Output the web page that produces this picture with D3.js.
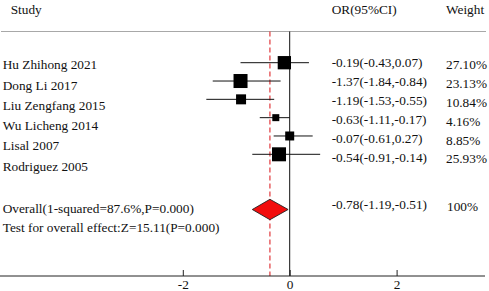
<!DOCTYPE html>
<html>
<head>
<meta charset="utf-8">
<script src="https://cdn.jsdelivr.net/npm/d3@7/dist/d3.min.js"></script>
<style>
  html, body { margin: 0; padding: 0; background: #fff; }
  svg { display: block; }
  text { font-family: "Liberation Serif", "Times New Roman", serif; font-size: 13.3px; fill: #111; }
</style>
</head>
<body>
<svg id="chart" width="489" height="291"></svg>
<script>
// ---- data ----
const studies = ["Hu Zhihong 2021", "Dong Li 2017", "Liu Zengfang 2015", "Wu Licheng 2014", "Lisal 2007", "Rodriguez 2005"];
const orLabels = ["-0.19(-0.43,0.07)", "-1.37(-1.84,-0.84)", "-1.19(-1.53,-0.55)", "-0.63(-1.11,-0.17)", "-0.07(-0.61,0.27)", "-0.54(-0.91,-0.14)"];
const weightLabels = ["27.10%", "23.13%", "10.84%", "4.16%", "8.85%", "25.93%"];
// values as plotted in the picture
const estimates = [-0.10, -0.92, -0.91, -0.26, 0.00, -0.20];
const lowerCI   = [-0.92, -1.44, -1.56, -0.56, -0.30, -0.70];
const upperCI   = [ 0.36, -0.17, -0.29,  0.00,  0.43,  0.57];
const plotWeights = [22.1, 24.5, 12.5, 6.1, 10.1, 24.5];
const overall = { est: -0.37, lo: -0.70, hi: -0.03 };
const overallLabel = "Overall(1-squared=87.6%,P=0.000)";
const overallOR = "-0.78(-1.19,-0.51)";
const overallWeight = "100%";
const testLabel = "Test for overall effect:Z=15.11(P=0.000)";
const headers = ["Study", "OR(95%CI)", "Weight"];
const ticks = [-2, 0, 2];

// ---- layout ----
const svg = d3.select("#chart");
const x = d3.scaleLinear().domain([-2, 2]).range([182.8, 396.6]);
const idx = d3.range(studies.length);
const yMark = d3.scaleLinear().domain([0, 5]).range([62.7, 154.3]);
const yLabel = d3.scaleLinear().domain([0, 5]).range([65, 166.2]);
const yOR = d3.scaleLinear().domain([0, 5]).range([62.9, 157.5]);
const yW = d3.scaleLinear().domain([0, 5]).range([64.8, 159]);
const boxSize = d3.scaleSqrt().domain([0, d3.max(plotWeights)]).range([0, 14]);
const topY = 31.5, axisY = 276, overallY = 209.5;
const base = 4.4; // center -> baseline

// header
const hx = [10.7, 331.7, 446];
svg.selectAll("text.hdr").data(headers).join("text").attr("class", "hdr")
  .attr("x", (d, i) => hx[i]).attr("y", 14).text(d => d);
svg.append("line").attr("x1", 1).attr("x2", 486).attr("y1", topY).attr("y2", topY)
  .attr("stroke", "#a8a8a8").attr("stroke-width", 1);

// study labels
svg.selectAll("text.study").data(studies).join("text").attr("class", "study")
  .attr("x", 2.7).attr("y", (d, i) => yLabel(i) + base).text(d => d);
svg.selectAll("text.or").data(orLabels).join("text").attr("class", "or")
  .attr("x", 331.7).attr("y", (d, i) => yOR(i) + base).text(d => d);
svg.selectAll("text.w").data(weightLabels).join("text").attr("class", "w")
  .attr("x", 446).attr("y", (d, i) => yW(i) + base).text(d => d);

svg.append("text").attr("x", 2.7).attr("y", 209 + base).text(overallLabel);
svg.append("text").attr("x", 2.7).attr("y", 227.6 + base).text(testLabel);
svg.append("text").attr("x", 331.7).attr("y", 205 + base).text(overallOR);
svg.append("text").attr("x", 447).attr("y", 206.7 + base).text(overallWeight);

// zero line
svg.append("line").attr("x1", x(0)).attr("x2", x(0)).attr("y1", topY).attr("y2", axisY)
  .attr("stroke", "#111").attr("stroke-width", 1);
// overall dashed line
svg.append("line").attr("x1", x(overall.est)).attr("x2", x(overall.est)).attr("y1", topY).attr("y2", axisY)
  .attr("stroke", "#e0393c").attr("stroke-width", 1.2).attr("stroke-dasharray", "5,3");

// CI lines
svg.selectAll("line.ci").data(idx).join("line").attr("class", "ci")
  .attr("x1", i => x(lowerCI[i])).attr("x2", i => x(upperCI[i]))
  .attr("y1", i => yMark(i)).attr("y2", i => yMark(i))
  .attr("stroke", "#111").attr("stroke-width", 1);
// boxes
svg.selectAll("rect.box").data(idx).join("rect").attr("class", "box")
  .attr("x", i => x(estimates[i]) - boxSize(plotWeights[i]) / 2)
  .attr("y", i => yMark(i) - boxSize(plotWeights[i]) / 2)
  .attr("width", i => boxSize(plotWeights[i]))
  .attr("height", i => boxSize(plotWeights[i]))
  .attr("fill", "#000");

// diamond
const dh = 10.2;
svg.append("path")
  .attr("d", `M${x(overall.lo)},${overallY} L${x(overall.est)},${overallY - dh} L${x(overall.hi)},${overallY} L${x(overall.est)},${overallY + dh} Z`)
  .attr("fill", "#f20d0d").attr("stroke", "#222").attr("stroke-width", 0.9);

// axis
svg.append("line").attr("x1", 0).attr("x2", 485).attr("y1", axisY).attr("y2", axisY)
  .attr("stroke", "#222").attr("stroke-width", 1);
const axis = d3.axisBottom(x).tickValues(ticks).tickFormat(d => String(d))
  .tickSizeInner(-6).tickSizeOuter(0).tickPadding(4);
const g = svg.append("g").attr("transform", `translate(0,${axisY})`).call(axis);
g.select(".domain").remove();
g.selectAll(".tick line").attr("stroke", "#222");
g.selectAll(".tick text").attr("font-family", "Liberation Serif, Times New Roman, serif")
  .attr("font-size", "13.3px").attr("fill", "#111");
</script>
</body>
</html>
